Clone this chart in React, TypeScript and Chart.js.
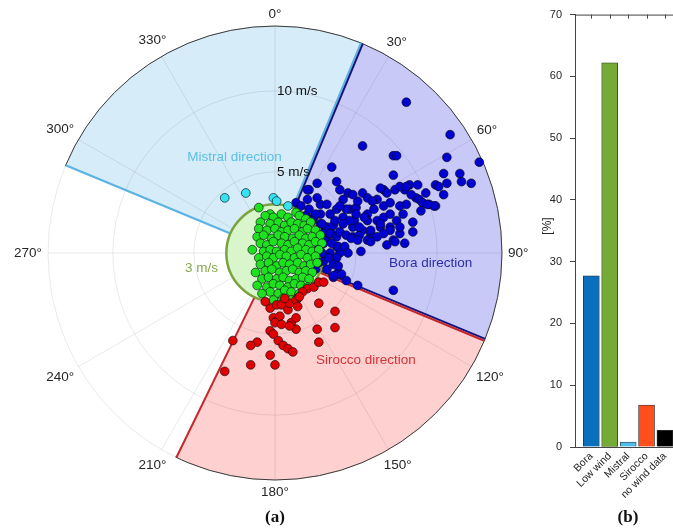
import React, { useEffect, useRef } from "react";
import { Chart, registerables } from "chart.js";
Chart.register(...registerables);

const FONT = "'Liberation Sans', Arial, Helvetica, sans-serif";

// ---- polar axis settings (m/s, degrees clockwise from north) ----
const maxSpeed = 14;
const ringSpeeds = [5, 10];
const lowWindLimit = 3;
const angleTicks = [0, 30, 60, 90, 120, 150, 180, 210, 240, 270, 300, 330];

const mistralRange = [292.5, 382.5];
const boraRange = [22.5, 112.5];
const siroccoRange = [112.5, 206];

// ---- wind samples: [east component, north component] in m/s ----
const boraPoints = [
  [8.1, 9.3], [5.4, 6.6], [7.3, 6.0], [7.5, 6.0], [10.8, 7.3], [12.6, 5.6], [10.6, 5.9], [3.5, 5.3],
  [7.3, 4.8], [10.4, 4.9], [11.4, 4.9], [11.5, 4.4], [12.1, 4.3], [10.6, 4.3], [10.4, 3.6], [9.9, 4.2],
  [10.1, 4.1], [8.3, 4.2], [8.8, 4.2], [8.0, 3.9], [9.3, 3.7], [9.9, 2.9], [9.5, 3.0], [8.5, 1.9],
  [7.3, 0.8], [5.3, 0.1], [3.8, 4.4], [4.0, 3.9], [4.5, 3.7], [4.2, 3.3], [5.4, 3.7], [5.7, 3.4],
  [6.3, 3.3], [6.7, 3.9], [6.9, 3.7], [7.4, 3.9], [7.7, 4.1], [8.1, 4.1], [6.7, 2.9], [7.1, 3.1],
  [7.7, 2.9], [8.1, 3.0], [8.7, 3.4], [8.9, 3.3], [9.1, 3.1], [3.4, 2.4], [3.8, 2.7], [4.2, 2.2],
  [4.6, 2.7], [5.0, 2.8], [5.7, 2.4], [6.3, 2.0], [6.7, 2.2], [7.1, 2.4], [7.5, 2.0], [7.9, 2.4],
  [6.5, 1.6], [7.1, 1.6], [7.7, 1.2], [5.9, 1.2], [5.4, 1.4], [4.8, 1.6], [4.9, 2.0], [2.1, 3.9],
  [2.0, 3.3], [2.8, 2.4], [2.4, 2.2], [3.1, 1.4], [3.2, 0.8], [3.5, 1.2], [3.8, 0.4], [4.0, 0.0],
  [1.9, 2.3], [2.2, 2.0], [2.8, 1.8], [3.2, 1.6], [3.6, 1.7], [3.0, 1.2], [3.4, 1.2], [3.8, 1.0],
  [4.0, 1.3], [4.4, 1.1], [4.8, 1.0], [5.2, 1.1], [5.7, 0.8], [3.0, 0.6], [3.5, 0.6], [3.9, 0.4],
  [4.3, 0.4], [4.7, 0.9], [5.1, 0.8], [5.9, 0.7], [6.3, 1.0], [3.4, 0.0], [3.8, -0.3], [3.0, -0.5],
  [3.6, -0.7], [3.9, -1.2], [4.1, -1.3], [3.6, -1.5], [5.1, -2.0], [7.3, -2.3], [7.4, 0.7], [8.5, 1.3],
  [7.1, 1.4], [7.7, 1.6], [6.5, 1.8], [6.7, 1.2], [5.2, 1.6], [5.7, 2.0], [5.9, 1.4], [4.6, 2.0],
  [5.0, 2.4], [4.4, 2.7], [4.0, 2.9], [2.8, 3.0], [9.8, 2.9], [9.4, 3.0], [2.0, 3.9], [1.3, 3.1],
  [1.6, 2.9], [2.1, 2.7], [2.5, 2.4], [2.3, 2.0], [2.9, 1.8], [3.0, 0.8], [2.9, 0.0], [2.7, -0.6],
  [2.5, -1.0], [3.6, -1.4], [3.9, -0.8], [2.6, 1.2], [2.7, 0.3], [3.3, -0.3], [4.5, 0.0], [4.2, 1.8],
  [3.7, 2.0], [5.5, 2.2], [6.1, 2.7], [6.0, 3.2], [5.1, 3.2], [4.8, 3.6], [6.5, 4.0], [8.4, 3.6],
  [9.0, 2.6], [6.9, 0.5], [8.0, 0.6], [3.2, -1.0], [4.4, -1.7], [2.6, 3.4], [3.2, 3.0], [2.6, 4.3],
];

const lowWindPoints = [
  [-1.0, 2.8], [1.3, 2.5], [-0.3, 2.4],
  [-0.6, 2.3], [-0.1, 2.2], [0.4, 2.4], [0.8, 2.2], [1.5, 2.3], [1.9, 2.1],
  [-0.9, 1.9], [-0.3, 1.8], [0.2, 1.9], [0.6, 1.7], [1.0, 1.9], [1.4, 1.8], [1.8, 1.7], [2.2, 1.9],
  [-1.0, 1.5], [-0.5, 1.4], [0.0, 1.5], [0.4, 1.3], [0.8, 1.4], [1.2, 1.5], [1.7, 1.3], [2.0, 1.5], [2.5, 1.4],
  [-1.1, 1.0], [-0.7, 1.1], [-0.2, 0.9], [0.2, 1.1], [0.6, 1.0], [1.1, 0.9], [1.5, 1.1], [1.9, 0.9], [2.3, 1.0], [2.8, 1.1],
  [-0.9, 0.6], [-0.5, 0.5], [-0.1, 0.7], [0.4, 0.6], [0.8, 0.5], [1.2, 0.7], [1.7, 0.6], [2.1, 0.5], [2.5, 0.7], [2.9, 0.6],
  [-1.4, 0.2], [-0.7, 0.1], [-0.3, 0.2], [0.1, 0.1], [0.6, 0.2], [1.0, 0.1], [1.4, 0.3], [1.9, 0.2], [2.3, 0.1], [2.7, 0.2],
  [-1.0, -0.3], [-0.5, -0.2], [-0.1, -0.3], [0.3, -0.1], [0.7, -0.2], [1.2, -0.3], [1.6, -0.1], [2.0, -0.3], [2.5, -0.2],
  [-0.9, -0.7], [-0.4, -0.6], [0.1, -0.8], [0.5, -0.6], [0.9, -0.7], [1.4, -0.6], [1.8, -0.8], [2.2, -0.7], [2.6, -0.6],
  [-1.2, -1.2], [-0.6, -1.1], [-0.2, -1.0], [0.3, -1.2], [0.7, -1.1], [1.1, -1.0], [1.5, -1.2], [1.9, -1.1], [2.3, -1.2],
  [-0.8, -1.6], [-0.4, -1.5], [0.1, -1.6], [0.5, -1.5], [0.9, -1.7], [1.3, -1.6], [1.7, -1.5], [2.1, -1.6],
  [-1.1, -2.0], [-0.5, -2.1], [-0.1, -1.9], [0.3, -2.0], [0.8, -2.1], [1.2, -1.9], [1.6, -2.0], [2.0, -2.1],
  [-0.3, -2.4], [0.2, -2.5], [0.6, -2.3], [1.0, -2.4], [1.5, -2.5],
  [-0.8, -2.5], [-0.1, -2.9], [0.5, -2.8], [1.0, -2.9], [1.4, -2.8],
];

const siroccoPoints = [
  [2.0, -2.2], [2.4, -2.1], [2.7, -1.8], [3.0, -1.8], [1.7, -2.4], [-0.3, -3.4], [0.1, -3.2], [0.4, -3.2],
  [0.8, -3.5], [0.9, -3.1], [1.3, -2.9], [1.4, -3.3], [-0.1, -4.0], [0.1, -4.2], [0.3, -3.9], [0.0, -4.3],
  [0.4, -4.4], [1.0, -4.3], [1.3, -4.0], [1.3, -4.7], [0.9, -4.5], [-0.3, -4.8], [-0.1, -5.0], [2.7, -3.1],
  [3.7, -3.6], [2.6, -4.7], [3.7, -4.6], [2.7, -5.5], [0.2, -5.4], [0.5, -5.7], [0.8, -5.9], [1.1, -6.1],
  [-0.3, -6.3], [0.0, -6.9], [-1.1, -5.5], [-1.5, -5.7], [-1.5, -6.9], [-2.6, -5.4], [-3.1, -7.3], [-0.6, -3.0],
  [0.6, -2.8], [1.5, -2.7],
];

const mistralPoints = [
  [-3.1, 3.4], [-1.8, 3.7], [-0.1, 3.4], [0.1, 3.2], [0.8, 2.9],
];

// ---- bar chart data ----
const barCategories = ["Bora", "Low wind", "Mistral", "Sirocco", "no wind data"];
const barValues = [27.7, 62.2, 0.8, 6.8, 2.7];
const barColors = ["#0a70bd", "#74aa35", "#4dbdee", "#ff4f1e", "#000000"];

const sectors = [
  { range: mistralRange, fill: "#d6ecf8", line: "#5ab3e2" },
  { range: boraRange, fill: "#c9c9f8", line: "#15157f" },
  { range: siroccoRange, fill: "#ffd0d0", line: "#c3282c" },
];

const textLabels = [
  { text: "Mistral direction", e: -2.5, n: 5.92, color: "#5cbfe6" },
  { text: "Bora direction", e: 9.6, n: -0.62, color: "#2b2bab" },
  { text: "Sirocco direction", e: 5.6, n: -6.6, color: "#d33235" },
  { text: "3 m/s", e: -4.53, n: -0.93, color: "#86a84a" },
];

const polarDecor = {
  id: "polarDecor",
  beforeDatasetsDraw(chart: any) {
    const { ctx } = chart;
    const xs = chart.scales.x;
    const ys = chart.scales.y;
    const cx = xs.getPixelForValue(0);
    const cy = ys.getPixelForValue(0);
    const rad = (s: number) => xs.getPixelForValue(s) - cx;
    const R = rad(maxSpeed);
    const r0 = rad(lowWindLimit);
    const ca = (deg: number) => ((deg - 90) * Math.PI) / 180;
    const P = (deg: number, r: number) => [
      cx + r * Math.sin((deg * Math.PI) / 180),
      cy - r * Math.cos((deg * Math.PI) / 180),
    ];
    ctx.save();
    for (const s of sectors) {
      ctx.beginPath();
      ctx.arc(cx, cy, R, ca(s.range[0]), ca(s.range[1]), false);
      ctx.arc(cx, cy, r0, ca(s.range[1]), ca(s.range[0]), true);
      ctx.closePath();
      ctx.fillStyle = s.fill;
      ctx.fill();
    }
    ctx.lineWidth = 0.8;
    ctx.strokeStyle = "rgba(0,0,0,0.11)";
    for (const s of [...ringSpeeds, maxSpeed]) {
      ctx.beginPath();
      ctx.arc(cx, cy, rad(s), 0, Math.PI * 2);
      ctx.stroke();
    }
    for (const a of angleTicks) {
      const [x, y] = P(a, R);
      ctx.beginPath();
      ctx.moveTo(cx, cy);
      ctx.lineTo(x, y);
      ctx.stroke();
    }
    ctx.strokeStyle = "#3a3a3a";
    ctx.lineWidth = 1;
    for (const s of sectors) {
      ctx.beginPath();
      ctx.arc(cx, cy, R, ca(s.range[0]), ca(s.range[1]), false);
      ctx.stroke();
    }
    ctx.lineWidth = 2;
    ctx.lineCap = "butt";
    for (const s of sectors) {
      for (const [deg, sign] of [[s.range[0], 1], [s.range[1], -1]]) {
        const t = (deg * Math.PI) / 180;
        const ox = sign * Math.cos(t);
        const oy = sign * Math.sin(t);
        const [x1, y1] = P(deg, r0);
        const [x2, y2] = P(deg, R);
        ctx.strokeStyle = s.line;
        ctx.beginPath();
        ctx.moveTo(x1 + ox, y1 + oy);
        ctx.lineTo(x2 + ox, y2 + oy);
        ctx.stroke();
      }
    }
    ctx.beginPath();
    ctx.arc(cx, cy, r0, 0, Math.PI * 2);
    ctx.fillStyle = "#d8f5cc";
    ctx.fill();
    ctx.lineWidth = 2.5;
    ctx.strokeStyle = "#7ba23c";
    ctx.stroke();
    ctx.restore();
  },
  afterDraw(chart: any) {
    const { ctx } = chart;
    const xs = chart.scales.x;
    const ys = chart.scales.y;
    const cx = xs.getPixelForValue(0);
    const cy = ys.getPixelForValue(0);
    const rad = (s: number) => xs.getPixelForValue(s) - cx;
    const R = rad(maxSpeed);
    ctx.save();
    ctx.font = `13.5px ${FONT}`;
    ctx.textBaseline = "middle";
    ctx.textAlign = "center";
    ctx.fillStyle = "#262626";
    for (const a of angleTicks) {
      const txt = `${a}°`;
      const w = ctx.measureText(txt).width;
      const h = 12;
      const sx = Math.sin((a * Math.PI) / 180);
      const sy = -Math.cos((a * Math.PI) / 180);
      const d = R + 6 + (w / 2) * Math.abs(sx) + (h / 2) * Math.abs(sy);
      ctx.fillText(txt, cx + d * sx, cy + d * sy);
    }
    ctx.textAlign = "left";
    ctx.fillStyle = "#111";
    for (const s of ringSpeeds) {
      ctx.fillText(`${s} m/s`, cx + 2, cy - rad(s));
    }
    ctx.textAlign = "center";
    for (const l of textLabels) {
      ctx.fillStyle = l.color;
      ctx.fillText(l.text, xs.getPixelForValue(l.e), ys.getPixelForValue(l.n));
    }
    ctx.restore();
  },
};

const barDecor = {
  id: "barDecor",
  afterDraw(chart: any) {
    const { ctx, chartArea } = chart;
    const xs = chart.scales.x;
    ctx.save();
    ctx.strokeStyle = "#444";
    ctx.lineWidth = 1;
    ctx.beginPath();
    ctx.moveTo(chartArea.left, chartArea.top + 0.5);
    ctx.lineTo(chartArea.right, chartArea.top + 0.5);
    ctx.stroke();
    barCategories.forEach((_, i) => {
      const x = Math.round(xs.getPixelForValue(i + 1)) + 0.5;
      ctx.beginPath();
      ctx.moveTo(x, chartArea.top);
      ctx.lineTo(x, chartArea.top + 4);
      ctx.stroke();
    });
    ctx.translate(28, 226);
    ctx.rotate(-Math.PI / 2);
    ctx.font = `12px ${FONT}`;
    ctx.fillStyle = "#262626";
    ctx.textAlign = "center";
    ctx.textBaseline = "middle";
    ctx.fillText("[%]", 0, 0);
    ctx.restore();
  },
};

export default function App() {
  const polarRef = useRef<HTMLCanvasElement>(null);
  const barRef = useRef<HTMLCanvasElement>(null);

  useEffect(() => {
    const toXY = (pts: number[][]) => pts.map((p) => ({ x: p[0], y: p[1] }));
    const ds = (pts: number[][], color: string) => ({
      data: toXY(pts),
      backgroundColor: color,
      borderColor: "rgba(10,10,20,0.8)",
      borderWidth: 0.8,
      pointRadius: 4.4,
      pointHoverRadius: 4.4,
    });
    const polar = new Chart(polarRef.current as HTMLCanvasElement, {
      type: "scatter",
      data: {
        datasets: [
          ds(mistralPoints, "#36e2f0"),
          ds(siroccoPoints, "#e00000"),
          ds(lowWindPoints, "#1fe21f"),
          ds(boraPoints, "#0000d0"),
        ],
      },
      options: {
        animation: false,
        responsive: false,
        events: [],
        layout: { padding: { left: 48, right: 38, top: 26, bottom: 51 } },
        plugins: { legend: { display: false }, tooltip: { enabled: false } },
        scales: {
          x: { type: "linear", min: -maxSpeed, max: maxSpeed, display: false },
          y: { type: "linear", min: -maxSpeed, max: maxSpeed, display: false },
        },
      },
      plugins: [polarDecor],
    } as any);

    const bar = new Chart(barRef.current as HTMLCanvasElement, {
      type: "bar",
      data: {
        datasets: [
          {
            data: barValues.map((v, i) => ({ x: i + 1, y: v })),
            backgroundColor: barColors,
            borderColor: "#333",
            borderWidth: 0.8,
            barThickness: 16,
          },
        ],
      },
      options: {
        animation: false,
        responsive: false,
        events: [],
        layout: { padding: { left: 0, right: 2, top: 10, bottom: 0 } },
        plugins: { legend: { display: false }, tooltip: { enabled: false } },
        scales: {
          x: {
            type: "linear",
            min: 0.114,
            max: 5.6,
            offset: false,
            afterBuildTicks: (s: any) => {
              s.ticks = barCategories.map((_, i) => ({ value: i + 1 }));
            },
            afterFit: (s: any) => {
              s.height = 84;
            },
            grid: { display: false, drawTicks: false },
            border: { display: true, color: "#444", width: 1 },
            ticks: {
              autoSkip: false,
              minRotation: 45,
              maxRotation: 45,
              padding: 3,
              color: "#262626",
              font: { size: 10.5, family: FONT },
              callback: (v: any) => barCategories[Math.round(v) - 1] ?? "",
            },
          },
          y: {
            type: "linear",
            min: 0,
            max: 70,
            afterFit: (s: any) => {
              s.width = 55;
            },
            grid: { drawOnChartArea: false, drawTicks: true, tickLength: 5, color: "#444" },
            border: { display: true, color: "#444", width: 1 },
            ticks: {
              stepSize: 10,
              padding: 8,
              color: "#262626",
              font: { size: 11, family: FONT },
            },
          },
        },
      },
      plugins: [barDecor],
    } as any);

    return () => {
      polar.destroy();
      bar.destroy();
    };
  }, []);

  const caption: React.CSSProperties = {
    position: "absolute",
    top: 507,
    width: 80,
    textAlign: "center",
    lineHeight: "20px",
    font: "bold 17px 'Liberation Serif', 'Times New Roman', serif",
    color: "#111",
  };

  return (
    <div
      style={{
        position: "fixed",
        left: 0,
        top: 0,
        width: 673,
        height: 531,
        background: "#fff",
        overflow: "hidden",
      }}
    >
      <canvas
        ref={polarRef}
        width={540}
        height={531}
        style={{ position: "absolute", left: 0, top: 0, width: 540, height: 531 }}
      />
      <div style={{ position: "absolute", left: 520, top: 0, width: 153, height: 531, overflow: "hidden" }}>
        <canvas
          ref={barRef}
          width={158}
          height={531}
          style={{ position: "absolute", left: 0, top: 0, width: 158, height: 531 }}
        />
      </div>
      <div style={{ ...caption, left: 235 }}>(a)</div>
      <div style={{ ...caption, left: 588 }}>(b)</div>
    </div>
  );
}
